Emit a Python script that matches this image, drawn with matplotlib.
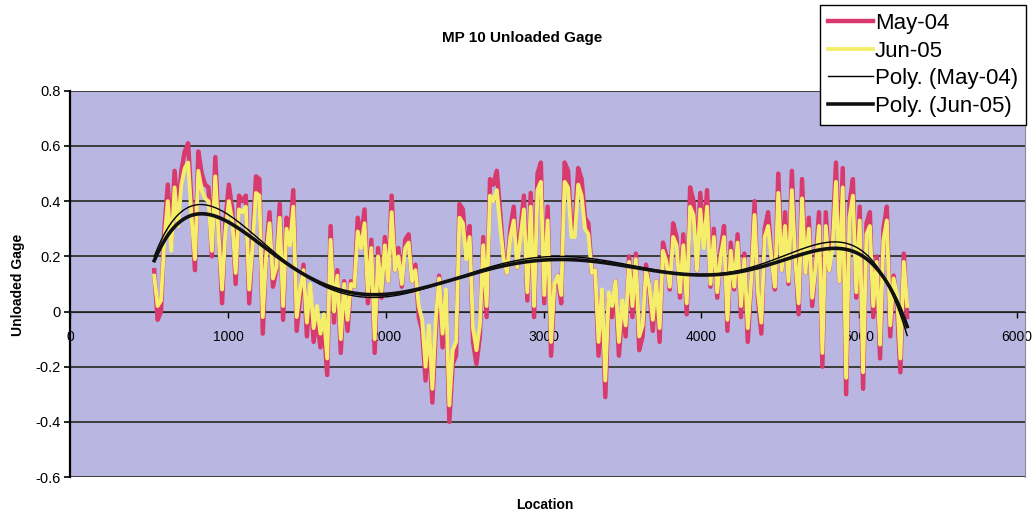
"""
MP 10 Unloaded Gage: May-04 and Jun-05 survey traces with polynomial trendlines.
"""

import numpy as np
import matplotlib.pyplot as plt

# survey locations are evenly spaced from start to end
loc_start = 532
loc_end = 5305

# May-04 readings (left to right)
may04 = [
    0.15, -0.03, 0.00, 0.30, 0.46, 0.25, 0.51, 0.36, 0.51, 0.58,
    0.61, 0.39, 0.15, 0.58, 0.50, 0.46, 0.45, 0.20, 0.56, 0.30,
    0.03, 0.33, 0.46, 0.37, 0.10, 0.42, 0.40, 0.42, 0.03, 0.26,
    0.49, 0.48, -0.08, 0.22, 0.36, 0.09, 0.15, 0.39, -0.03, 0.34,
    0.27, 0.44, -0.07, 0.05, 0.17, -0.09, 0.08, -0.11, -0.02, -0.13,
    -0.05, -0.23, 0.31, -0.04, 0.15, -0.15, 0.11, -0.07, 0.11, 0.09,
    0.34, 0.26, 0.37, 0.03, 0.26, -0.15, 0.23, 0.05, 0.27,
    0.11, 0.42, 0.15, 0.23, 0.09, 0.26, 0.28, 0.11, 0.17, -0.02,
    -0.07, -0.25, -0.09, -0.33, -0.07, 0.13, -0.13, 0.07, -0.40, -0.19,
    -0.16, 0.39, 0.37, 0.20, 0.31, -0.11, -0.19, -0.09, 0.27, -0.02,
    0.48, 0.46, 0.51, 0.36, 0.20, 0.14, 0.30, 0.38, 0.16, 0.30,
    0.42, 0.04, 0.43, -0.02, 0.50, 0.54, 0.03, 0.38, -0.16, 0.09,
    0.13, 0.03, 0.54, 0.51, 0.30, 0.31, 0.52, 0.48, 0.34, 0.32,
    0.14, 0.15, -0.16, 0.07, -0.31, 0.05, -0.02, 0.11, -0.16, 0.01,
    -0.09, 0.20, -0.02, 0.21, -0.14,
    -0.09, 0.17, 0.08, -0.07, 0.11, -0.11, 0.25, 0.20, 0.08, 0.32,
    0.27, 0.05, 0.28, -0.01,
    0.45, 0.40, 0.15, 0.43, 0.26, 0.44, 0.09, 0.30, 0.05, 0.22,
    0.31, -0.07, 0.25, 0.08, 0.28, -0.02, 0.21, -0.11, 0.11, 0.40,
    0.05, -0.08, 0.30, 0.36, 0.20, 0.08, 0.50, 0.15, 0.36, 0.10,
    0.51, 0.20, -0.01, 0.48, 0.14, 0.34, 0.02, 0.17, 0.36, -0.20,
    0.36, 0.15, 0.26, 0.54, 0.11, 0.52, -0.30, 0.39, 0.48, 0.05,
    0.38, -0.28, 0.32, 0.36, -0.02, 0.20, -0.17, 0.30, 0.38, -0.09,
    0.13, 0.03, -0.22, 0.21, -0.02,
]

# Jun-05 readings
jun05 = [
    0.13, 0.02, 0.04, 0.26, 0.40, 0.22, 0.45, 0.31, 0.46, 0.52,
    0.54, 0.34, 0.19, 0.51, 0.44, 0.41, 0.40, 0.22, 0.49, 0.27,
    0.08, 0.29, 0.40, 0.33, 0.14, 0.37, 0.36, 0.38, 0.08, 0.24,
    0.43, 0.42, -0.02, 0.20, 0.32, 0.12, 0.16, 0.34, 0.02, 0.30,
    0.24, 0.38, -0.02, 0.08, 0.15, -0.04, 0.10, -0.06, 0.02, -0.08,
    -0.01, -0.17, 0.26, 0.00, 0.13, -0.10, 0.10, -0.03, 0.10, 0.09,
    0.29, 0.23, 0.32, 0.06, 0.23, -0.10, 0.20, 0.07, 0.24,
    0.11, 0.36, 0.15, 0.20, 0.10, 0.23, 0.25, 0.11, 0.15, 0.02,
    -0.03, -0.20, -0.05, -0.28, -0.03, 0.12, -0.08, 0.08, -0.34, -0.14,
    -0.11, 0.34, 0.32, 0.19, 0.27, -0.06, -0.14, -0.05, 0.24, 0.02,
    0.42, 0.40, 0.44, 0.31, 0.19, 0.14, 0.27, 0.33, 0.16, 0.27,
    0.37, 0.07, 0.38, 0.02, 0.44, 0.47, 0.06, 0.33, -0.11, 0.10,
    0.13, 0.06, 0.47, 0.45, 0.27, 0.27, 0.46, 0.42, 0.30, 0.28,
    0.14, 0.15, -0.11, 0.08, -0.25, 0.07, 0.02, 0.11, -0.11, 0.04,
    -0.05, 0.18, 0.02, 0.19, -0.09,
    -0.05, 0.15, 0.09, -0.03, 0.11, -0.06, 0.22, 0.18, 0.09, 0.27,
    0.24, 0.07, 0.24, 0.03,
    0.38, 0.35, 0.15, 0.37, 0.23, 0.38, 0.10, 0.27, 0.07, 0.20,
    0.27, -0.03, 0.22, 0.09, 0.25, 0.02, 0.19, -0.06, 0.11, 0.35,
    0.07, -0.04, 0.27, 0.31, 0.19, 0.09, 0.43, 0.15, 0.31, 0.11,
    0.44, 0.19, 0.03, 0.41, 0.14, 0.30, 0.05, 0.16, 0.31, -0.15,
    0.31, 0.15, 0.23, 0.47, 0.11, 0.45, -0.24, 0.34, 0.42, 0.07,
    0.33, -0.22, 0.28, 0.31, 0.02, 0.18, -0.12, 0.26, 0.33, -0.05,
    0.12, 0.06, -0.17, 0.18, 0.02,
]

y_ticks = [-0.6, -0.4, -0.2, 0, 0.2, 0.4, 0.6, 0.8]
y_labels = ['-0.6', '-0.4', '-0.2', '0', '0.2', '0.4', '0.6', '0.8']
x_ticks = [0, 1000, 2000, 3000, 4000, 5000, 6000]
x_labels = ['0', '1000', '2000', '3000', '4000', '5000', '6000']

plt.rcParams['font.family'] = ['Liberation Sans', 'DejaVu Sans']

location = np.linspace(loc_start, loc_end, len(may04))

fig = plt.figure(figsize=(10.34, 5.13), dpi=100)
ax = fig.add_axes([0.068, 0.070, 0.923, 0.753])
ax.set_facecolor('#b9b7e2')

for y in y_ticks:
    ax.axhline(y, color='#3c3c3c', lw=1.4, zorder=1)

ax.plot(location, may04, color='#d93a6e', lw=3.2, zorder=3, label='May-04')
ax.plot(location, jun05, color='#f5ee6a', lw=2.8, zorder=4, label='Jun-05')

# 6th order polynomial trendlines, like Excel
xs = np.linspace(loc_start, loc_end, 400)
p_may = np.polynomial.Polynomial.fit(location, may04, 6)
p_jun = np.polynomial.Polynomial.fit(location, jun05, 6)
ax.plot(xs, p_may(xs), color='black', lw=1.0, zorder=5, label='Poly. (May-04)')
ax.plot(xs, p_jun(xs), color='#111111', lw=2.6, zorder=6, label='Poly. (Jun-05)')

ax.set_xlim(0, 6050)
ax.set_ylim(-0.6, 0.8)
ax.set_yticks(y_ticks)
ax.set_yticklabels(y_labels, fontsize=10.5)
ax.set_xticks(x_ticks)
ax.set_xticklabels(x_labels, fontsize=9.5, color='#333333')

ax.spines['bottom'].set_position(('data', 0))
ax.spines['bottom'].set_color('#222222')
ax.spines['left'].set_color('black')
ax.spines['left'].set_linewidth(1.6)
ax.spines['top'].set_visible(False)
ax.spines['right'].set_color('#8a8a9a')
ax.tick_params(axis='y', length=4, width=1.2, pad=3)
ax.tick_params(axis='x', length=4, width=1.0, pad=9)

fig.text(0.505, 0.926, 'MP 10 Unloaded Gage', ha='center', va='center',
         fontsize=11, fontweight='bold')
fig.text(0.017, 0.445, 'Unloaded Gage', ha='center', va='center',
         rotation=90, fontsize=10, fontweight='bold')
fig.text(0.527, 0.016, 'Location', ha='center', va='center',
         fontsize=10, fontweight='bold')

leg = fig.legend(loc='upper right', bbox_to_anchor=(0.992, 0.99),
                 fontsize=16, frameon=True, fancybox=False,
                 handlelength=2.0, handletextpad=0.1, labelspacing=0.3,
                 borderpad=0.35, borderaxespad=0)
leg.get_frame().set_edgecolor('black')
leg.get_frame().set_linewidth(1.0)
leg.get_frame().set_alpha(1)

fig.savefig('out.png', dpi=100)
